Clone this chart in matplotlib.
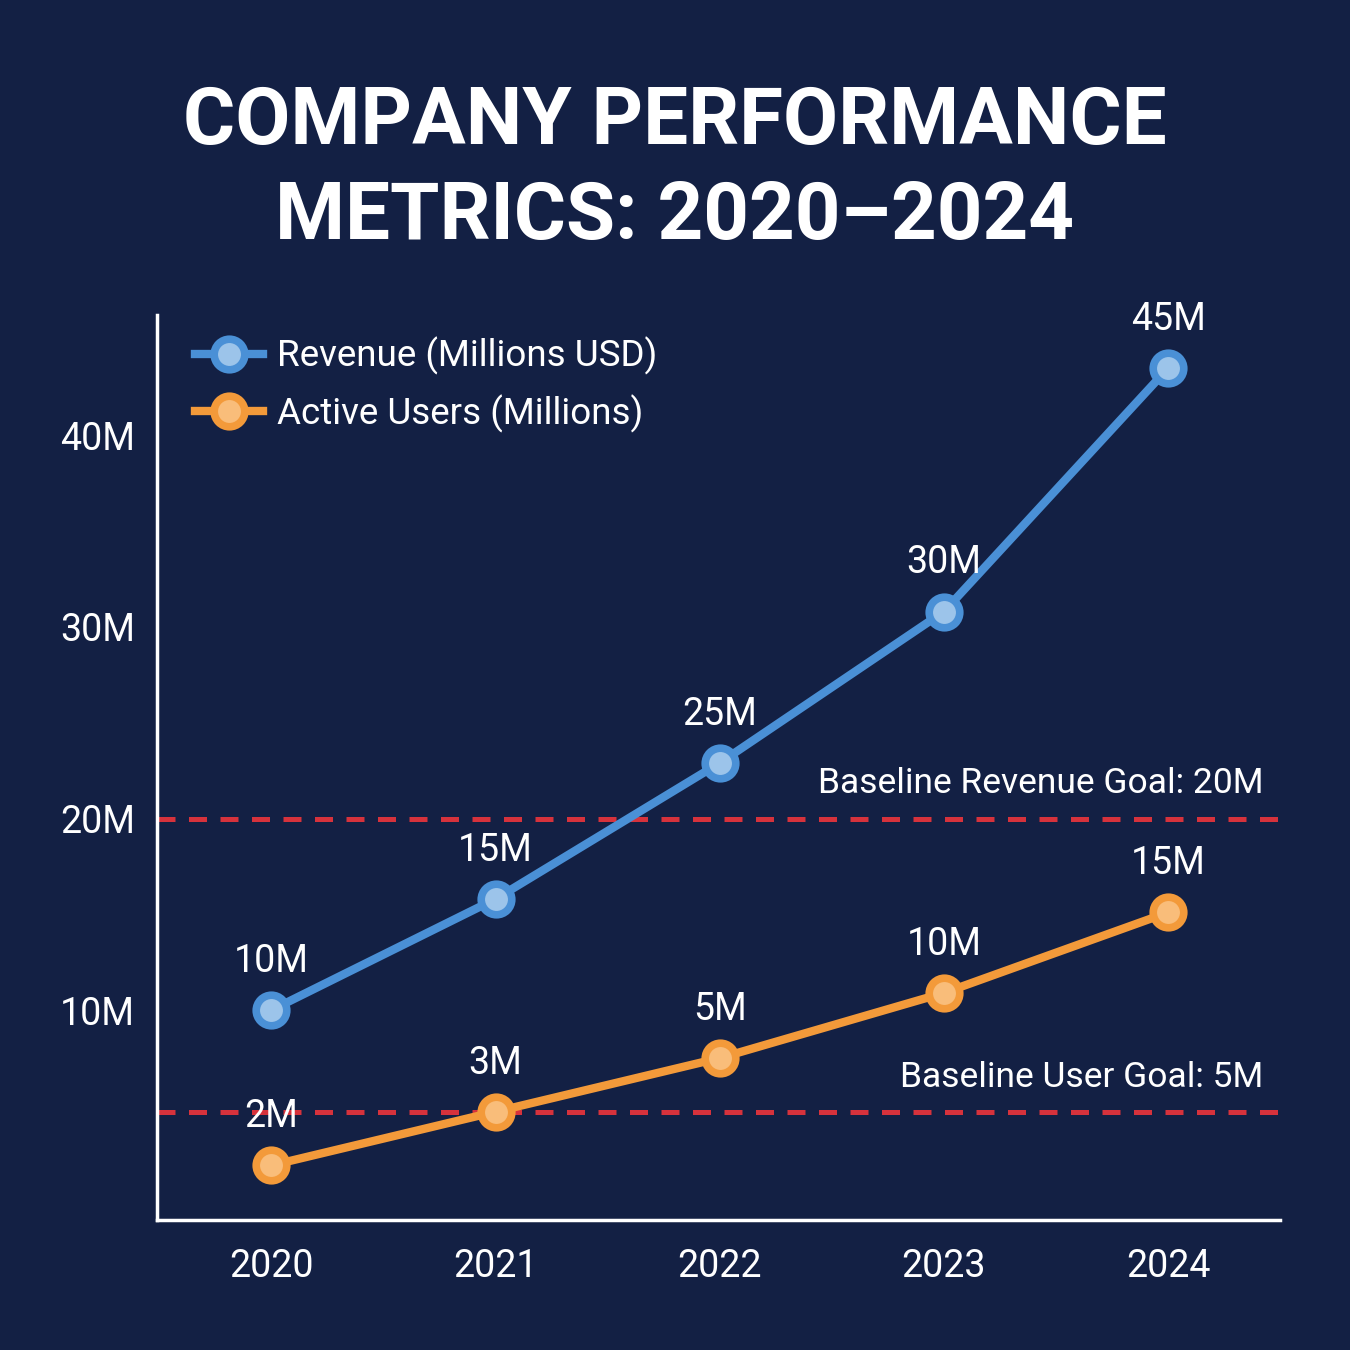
#!/usr/bin/env python3
import numpy as np
import matplotlib
matplotlib.use("Agg")
import matplotlib.pyplot as plt

# data
years = ["2020", "2021", "2022", "2023", "2024"]
revenue = [10.0, 15.8, 22.9, 30.8, 43.5]
revenue_labels = ["10M", "15M", "25M", "30M", "45M"]
users = [1.9, 4.7, 7.5, 10.9, 15.1]
users_labels = ["2M", "3M", "5M", "10M", "15M"]
y_ticks = [10, 20, 30, 40]
y_tick_labels = ["10M", "20M", "30M", "40M"]
revenue_goal = 20
user_goal = 4.7

BG = "#132044"
BLUE = "#4a90d6"
BLUE_FACE = "#9cc4ea"
ORANGE = "#f39a3a"
ORANGE_FACE = "#f9bd7a"
RED = "#d6323c"
FS = 27

plt.rcParams['font.family'] = ['Roboto', 'DejaVu Sans']

fig = plt.figure(figsize=(13.5, 13.5), dpi=100, facecolor=BG)
ax = fig.add_axes([0.1163, 0.0963, 0.832, 0.670], facecolor=BG)

x = np.arange(len(years))

# goal lines
for g in (revenue_goal, user_goal):
    ax.axhline(g, color=RED, lw=3.6, dashes=(3.6, 2.7), zorder=1)

ax.plot(x, revenue, color=BLUE, lw=6, marker="o", ms=22, mfc=BLUE_FACE,
        mec=BLUE, mew=5.5, label="Revenue (Millions USD)", zorder=3)
ax.plot(x, users, color=ORANGE, lw=6, marker="o", ms=22, mfc=ORANGE_FACE,
        mec=ORANGE, mew=5.5, label="Active Users (Millions)", zorder=3)

for xi, v, t in zip(x, revenue, revenue_labels):
    ax.annotate(t, (xi, v), xytext=(0, 35), textcoords="offset points",
                ha="center", va="center", color="white", fontsize=FS)
for xi, v, t in zip(x, users, users_labels):
    ax.annotate(t, (xi, v), xytext=(0, 35), textcoords="offset points",
                ha="center", va="center", color="white", fontsize=FS)

for g, t in ((revenue_goal, "Baseline Revenue Goal: 20M"),
             (user_goal, "Baseline User Goal: 5M")):
    ax.annotate(t, (0.985, g), xycoords=ax.get_yaxis_transform(),
                xytext=(0, 25), textcoords="offset points", color="white",
                fontsize=25.5, ha="right", va="center")

ax.set_xlim(-0.51, 4.5)
ax.set_ylim(-0.95, 46.25)
ax.set_xticks(x)
ax.set_xticklabels(years)
ax.set_yticks(y_ticks)
ax.set_yticklabels(y_tick_labels)
ax.tick_params(length=0, colors="white", labelsize=FS)
ax.tick_params(axis="x", pad=20)
ax.tick_params(axis="y", pad=16)

for s in ("top", "right"):
    ax.spines[s].set_visible(False)
for s in ("left", "bottom"):
    ax.spines[s].set_color("white")
    ax.spines[s].set_linewidth(2.5)

leg = ax.legend(loc="upper left", bbox_to_anchor=(0.004, 1.013), frameon=False,
                fontsize=26.5, labelcolor="white", handlelength=1.85,
                handletextpad=0.4, labelspacing=0.52)

fig.text(0.5, 0.909, "COMPANY PERFORMANCE", ha="center", va="center",
         color="white", fontsize=57.5, fontweight="bold")
fig.text(0.5, 0.839, "METRICS: 2020\u20132024", ha="center", va="center",
         color="white", fontsize=57.5, fontweight="bold")

fig.savefig("out.png", dpi=100, facecolor=BG)
